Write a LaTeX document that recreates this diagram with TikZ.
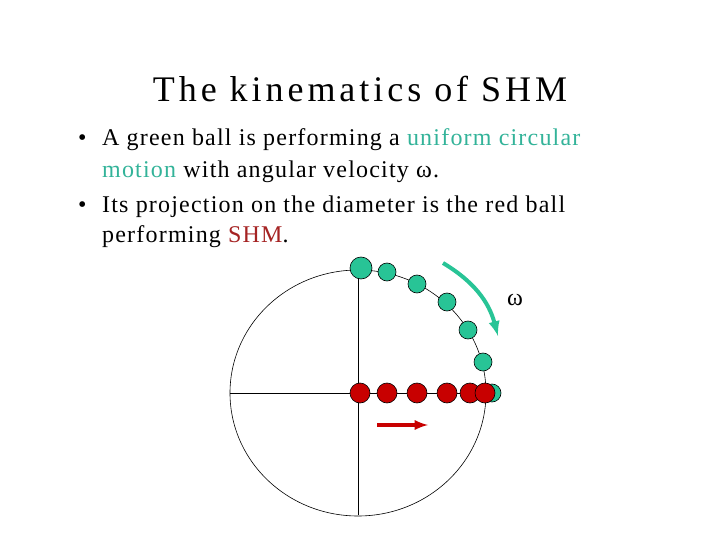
\documentclass[tikz,border=0pt]{standalone}
\usepackage{fontspec}
\setmainfont{Liberation Serif}
\usepackage{tikz}
\usetikzlibrary{arrows}
\definecolor{ballgreen}{RGB}{40,196,150}
\definecolor{textgreen}{RGB}{51,179,153}
\definecolor{ballred}{RGB}{200,0,0}
\definecolor{textred}{RGB}{165,35,35}
\tikzset{
	greenball/.style={circle, draw=black, line width=0.6pt, fill=ballgreen, inner sep=0pt, minimum size=18pt},
	redball/.style={circle, draw=black, line width=0.6pt, fill=ballred, inner sep=0pt, minimum size=20pt},
	bodytext/.style={anchor=base west, inner sep=0pt, font=\fontsize{24}{28}\selectfont\addfontfeature{LetterSpace=5}}
}
\begin{document}
\begin{tikzpicture}[>=latex, x=1pt, y=-1pt]
	\useasboundingbox (0,0) rectangle (720,540);
	% title and bullets
	\node (title) [anchor=base, inner sep=0pt, font=\fontsize{36}{40}\selectfont\addfontfeature{LetterSpace=11}] at (360,102) {The kinematics of SHM};
	\node (b1) [bodytext] at (78,146) {\textbullet};
	\node (l1) [bodytext] at (102,146) {A green ball is performing a \textcolor{textgreen}{uniform circular}};
	\node (l2) [bodytext] at (102,178) {\textcolor{textgreen}{motion} with angular velocity ω.};
	\node (b2) [bodytext] at (78,213) {\textbullet};
	\node (l3) [bodytext] at (102,213) {Its projection on the diameter is the red ball};
	\node (l4) [bodytext] at (102,243) {performing \textcolor{textred}{SHM}.};
	% circle and diameters
	\coordinate (o) at (358,393);
	\draw [line width=0.6pt] (o) ellipse [x radius=128, y radius=123];
	\draw [line width=0.6pt] (230,393) -- (486,393);
	\draw [line width=0.6pt] (358,270) -- (358,515);
	% green balls on the circle
	\foreach \n/\x/\y in {7/492/393, 6/483/362, 5/468/330, 4/447/302, 3/417/284, 2/387/272}
		\node (g\n) [greenball] at (\x,\y) {};
	\node (g1) [greenball, minimum size=22pt] at (361,268) {};
	% red balls on the diameter
	\foreach \n/\x in {1/360, 2/387, 3/417, 4/447, 5/470, 6/485}
		\node (r\n) [redball] at (\x,393) {};
	% arrows
	\draw [->, line width=4pt, color=ballgreen] (443,263) to [bend left=22] (498,336);
	\node (omega) [font=\fontsize{24}{28}\selectfont] at (515,300) {ω};
	\draw [->, line width=3.5pt, color=ballred] (377,425) -- (428,425);
\end{tikzpicture}
\end{document}
